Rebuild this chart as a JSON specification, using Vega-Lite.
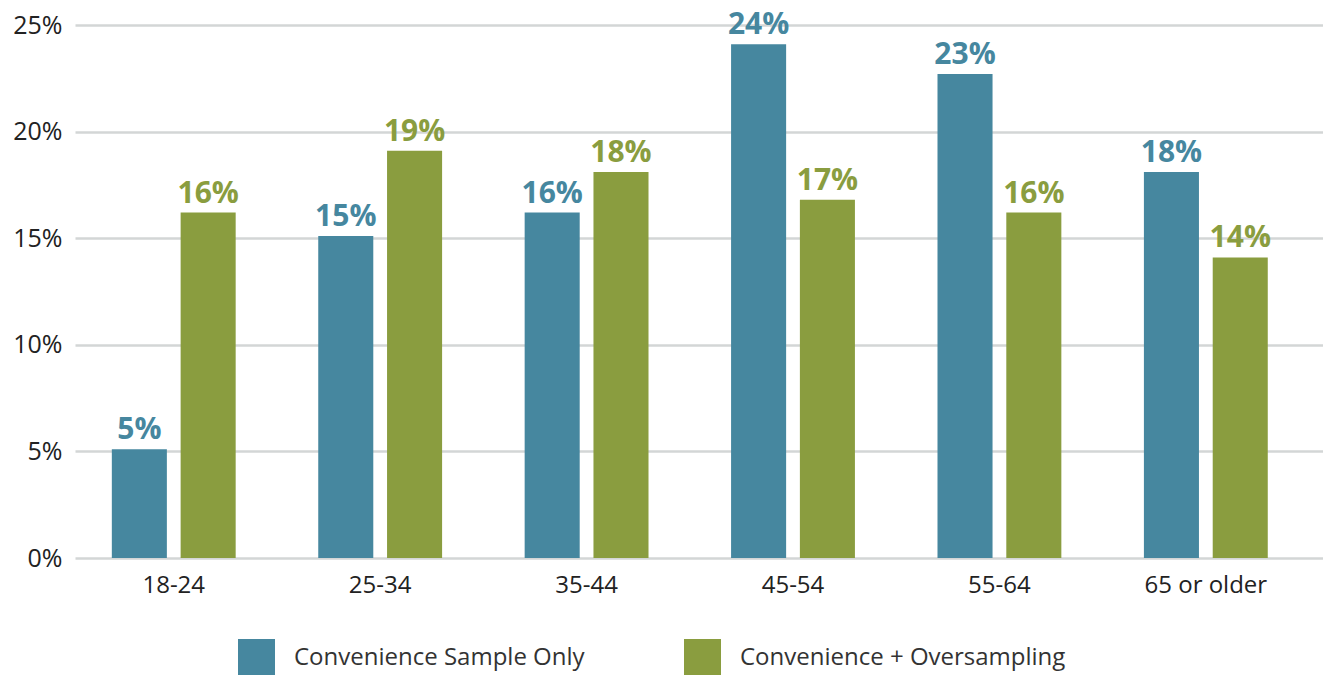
{
  "$schema": "https://vega.github.io/schema/vega-lite/v6.json",
  "width": 1248,
  "height": 533,
  "autosize": {"type": "none"},
  "padding": {"left": 75, "top": 25, "right": 0, "bottom": 117},
  "background": "white",
  "config": {
    "view": {"stroke": null},
    "font": "Open Sans",
    "axis": {"labelFont": "Open Sans", "labelColor": "#222222"}
  },
  "data": {
    "values": [
      {"age": "18-24", "group": "Convenience Sample Only", "share": 0.051},
      {"age": "18-24", "group": "Convenience + Oversampling", "share": 0.162},
      {"age": "25-34", "group": "Convenience Sample Only", "share": 0.151},
      {"age": "25-34", "group": "Convenience + Oversampling", "share": 0.191},
      {"age": "35-44", "group": "Convenience Sample Only", "share": 0.162},
      {"age": "35-44", "group": "Convenience + Oversampling", "share": 0.181},
      {"age": "45-54", "group": "Convenience Sample Only", "share": 0.241},
      {"age": "45-54", "group": "Convenience + Oversampling", "share": 0.168},
      {"age": "55-64", "group": "Convenience Sample Only", "share": 0.227},
      {"age": "55-64", "group": "Convenience + Oversampling", "share": 0.162},
      {"age": "65 or older", "group": "Convenience Sample Only", "share": 0.181},
      {"age": "65 or older", "group": "Convenience + Oversampling", "share": 0.141}
    ]
  },
  "encoding": {
    "x": {
      "field": "age",
      "type": "nominal",
      "sort": ["18-24", "25-34", "35-44", "45-54", "55-64", "65 or older"],
      "scale": {"paddingInner": 0.4, "paddingOuter": 0.223, "align": 0.4},
      "axis": {
        "title": null,
        "labelAngle": 0,
        "domain": false,
        "ticks": false,
        "labelFontSize": 24,
        "labelPadding": 15
      }
    },
    "xOffset": {
      "field": "group",
      "type": "nominal",
      "sort": ["Convenience Sample Only", "Convenience + Oversampling"],
      "scale": {"paddingInner": 0.2}
    },
    "y": {
      "field": "share",
      "type": "quantitative",
      "scale": {"domain": [0, 0.25], "nice": false},
      "axis": {
        "title": null,
        "format": ".0%",
        "values": [0, 0.05, 0.1, 0.15, 0.2, 0.25],
        "domain": false,
        "ticks": false,
        "labelFontSize": 25,
        "labelPadding": 13,
        "gridColor": "#d3d6d6",
        "gridWidth": 2.5
      }
    },
    "color": {
      "field": "group",
      "type": "nominal",
      "scale": {
        "domain": ["Convenience Sample Only", "Convenience + Oversampling"],
        "range": ["#46879f", "#8a9d3f"]
      },
      "legend": {
        "title": null,
        "orient": "none",
        "legendX": 163,
        "legendY": 614,
        "direction": "horizontal",
        "symbolType": "square",
        "symbolSize": 1369,
        "symbolStrokeWidth": 0,
        "labelFontSize": 24,
        "labelColor": "#333333",
        "labelFont": "Open Sans",
        "labelOffset": 19,
        "labelLimit": 600,
        "columnPadding": 99,
        "symbolOpacity": 1
      }
    }
  },
  "layer": [
    {"mark": {"type": "bar"}},
    {
      "mark": {"type": "text", "baseline": "bottom", "dy": -4, "fontSize": 30, "fontWeight": "bold", "font": "Open Sans"},
      "encoding": {
        "text": {"field": "share", "type": "quantitative", "format": ".0%"}
      }
    }
  ]
}
